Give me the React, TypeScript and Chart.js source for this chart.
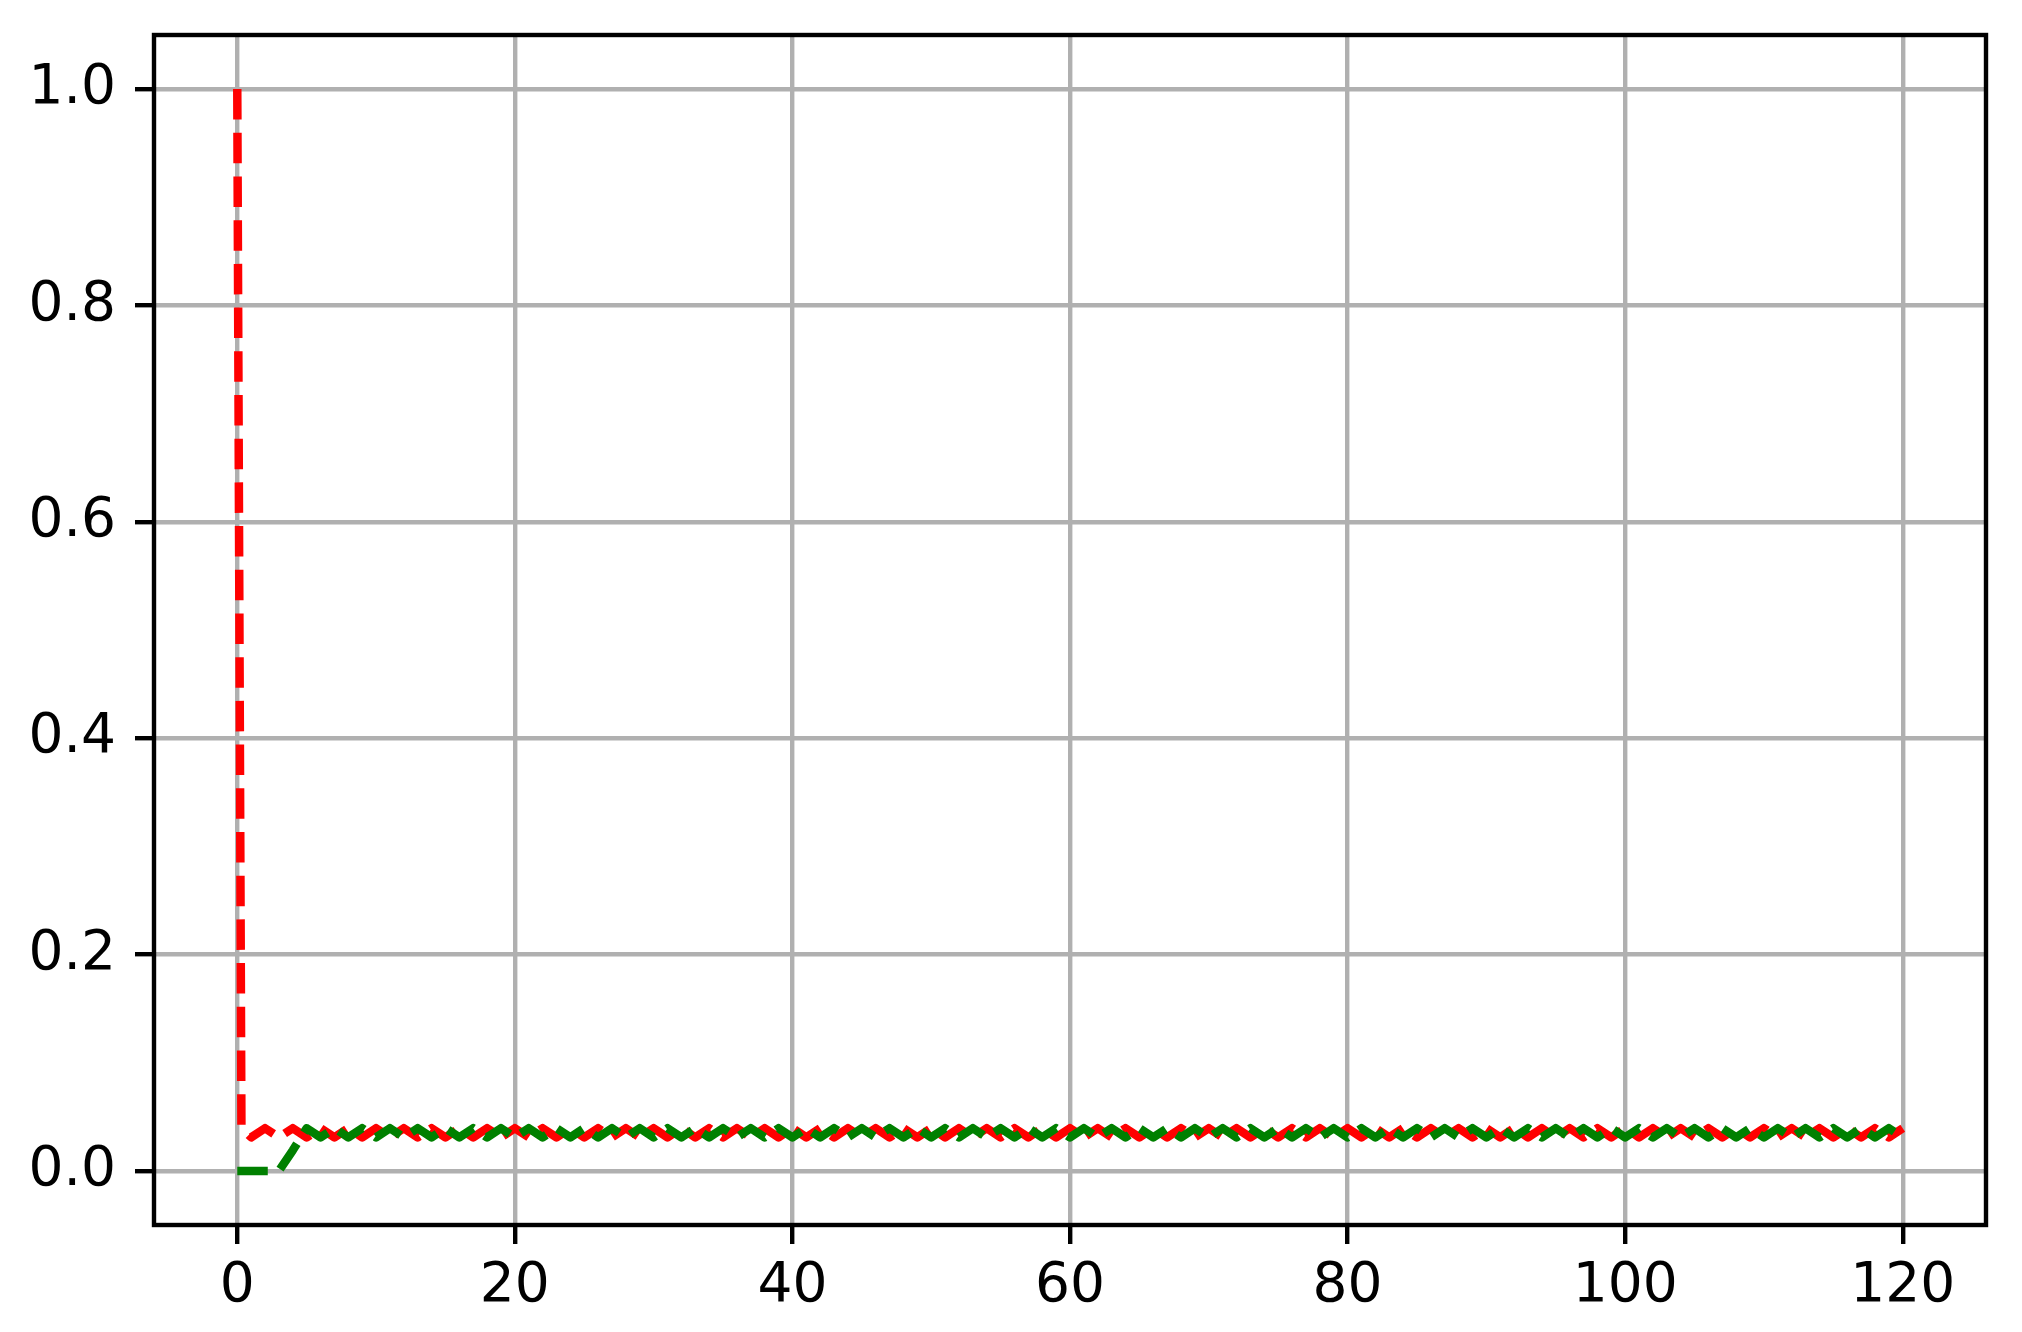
import React, { useEffect, useRef } from "react";
import { Chart, registerables } from "chart.js";

Chart.register(...registerables);

// time steps (x)
const timeSteps = [
  0, 1, 2, 3, 4, 5, 6, 7, 8, 9,
  10, 11, 12, 13, 14, 15, 16, 17, 18, 19,
  20, 21, 22, 23, 24, 25, 26, 27, 28, 29,
  30, 31, 32, 33, 34, 35, 36, 37, 38, 39,
  40, 41, 42, 43, 44, 45, 46, 47, 48, 49,
  50, 51, 52, 53, 54, 55, 56, 57, 58, 59,
  60, 61, 62, 63, 64, 65, 66, 67, 68, 69,
  70, 71, 72, 73, 74, 75, 76, 77, 78, 79,
  80, 81, 82, 83, 84, 85, 86, 87, 88, 89,
  90, 91, 92, 93, 94, 95, 96, 97, 98, 99,
  100, 101, 102, 103, 104, 105, 106, 107, 108, 109,
  110, 111, 112, 113, 114, 115, 116, 117, 118, 119,
  120,
];

// red series: extra early sample at t = 0.3
const redTimes = [0, 0.3, ...timeSteps.slice(1)];
const redValues = [
  1.0, 0.04,
  0.031, 0.0395, 0.031, 0.0395, 0.031, 0.0395, 0.031, 0.0395, 0.031, 0.0395,
  0.031, 0.0395, 0.031, 0.0395, 0.031, 0.0395, 0.031, 0.0395, 0.031, 0.0395,
  0.031, 0.0395, 0.031, 0.0395, 0.031, 0.0395, 0.031, 0.0395, 0.031, 0.0395,
  0.031, 0.0395, 0.031, 0.0395, 0.031, 0.0395, 0.031, 0.0395, 0.031, 0.0395,
  0.031, 0.0395, 0.031, 0.0395, 0.031, 0.0395, 0.031, 0.0395, 0.031, 0.0395,
  0.031, 0.0395, 0.031, 0.0395, 0.031, 0.0395, 0.031, 0.0395, 0.031, 0.0395,
  0.031, 0.0395, 0.031, 0.0395, 0.031, 0.0395, 0.031, 0.0395, 0.031, 0.0395,
  0.031, 0.0395, 0.031, 0.0395, 0.031, 0.0395, 0.031, 0.0395, 0.031, 0.0395,
  0.031, 0.0395, 0.031, 0.0395, 0.031, 0.0395, 0.031, 0.0395, 0.031, 0.0395,
  0.031, 0.0395, 0.031, 0.0395, 0.031, 0.0395, 0.031, 0.0395, 0.031, 0.0395,
  0.031, 0.0395, 0.031, 0.0395, 0.031, 0.0395, 0.031, 0.0395, 0.031, 0.0395,
  0.031, 0.0395, 0.031, 0.0395, 0.031, 0.0395, 0.031, 0.0395, 0.031, 0.0395,
];

// green series
const greenValues = [
  0, 0, 0, 0, 0.019, 0.0395, 0.031, 0.0395, 0.031, 0.0395,
  0.031, 0.0395, 0.031, 0.0395, 0.031, 0.0395, 0.031, 0.0395, 0.031, 0.0395,
  0.031, 0.0395, 0.031, 0.0395, 0.031, 0.0395, 0.031, 0.0395, 0.031, 0.0395,
  0.031, 0.0395, 0.031, 0.0395, 0.031, 0.0395, 0.031, 0.0395, 0.031, 0.0395,
  0.031, 0.0395, 0.031, 0.0395, 0.031, 0.0395, 0.031, 0.0395, 0.031, 0.0395,
  0.031, 0.0395, 0.031, 0.0395, 0.031, 0.0395, 0.031, 0.0395, 0.031, 0.0395,
  0.031, 0.0395, 0.031, 0.0395, 0.031, 0.0395, 0.031, 0.0395, 0.031, 0.0395,
  0.031, 0.0395, 0.031, 0.0395, 0.031, 0.0395, 0.031, 0.0395, 0.031, 0.0395,
  0.031, 0.0395, 0.031, 0.0395, 0.031, 0.0395, 0.031, 0.0395, 0.031, 0.0395,
  0.031, 0.0395, 0.031, 0.0395, 0.031, 0.0395, 0.031, 0.0395, 0.031, 0.0395,
  0.031, 0.0395, 0.031, 0.0395, 0.031, 0.0395, 0.031, 0.0395, 0.031, 0.0395,
  0.031, 0.0395, 0.031, 0.0395, 0.031, 0.0395, 0.031, 0.0395, 0.031, 0.0395,
  0.031,
];

const xTicks = [0, 20, 40, 60, 80, 100, 120];
const yTicks = [0.0, 0.2, 0.4, 0.6, 0.8, 1.0];

const W = 2022;
const H = 1332;
const FONT = { family: "'DejaVu Sans', sans-serif", size: 55 };

const framePlugin = {
  id: "frame",
  afterDatasetsDraw(chart: any) {
    const { ctx, chartArea } = chart;
    ctx.save();
    ctx.strokeStyle = "#000";
    ctx.lineWidth = 4.4;
    ctx.strokeRect(
      chartArea.left,
      chartArea.top,
      chartArea.right - chartArea.left,
      chartArea.bottom - chartArea.top
    );
    ctx.restore();
  },
};

export default function App() {
  const ref = useRef<HTMLCanvasElement | null>(null);

  useEffect(() => {
    document.body.style.margin = "0";
    const canvas = ref.current;
    if (!canvas) return;
    const chart = new Chart(canvas, {
      type: "line",
      data: {
        datasets: [
          {
            label: "green",
            data: timeSteps.map((t, i) => ({ x: t, y: greenValues[i] })),
            borderColor: "#008000",
            borderWidth: 8.5,
            borderDash: [30.5, 13.2],
            borderCapStyle: "butt",
            borderJoinStyle: "round",
            pointRadius: 0,
            tension: 0,
            fill: false,
            order: 0,
          },
          {
            label: "red",
            data: redTimes.map((t, i) => ({ x: t, y: redValues[i] })),
            borderColor: "#ff0000",
            borderWidth: 8.5,
            borderDash: [30.5, 13.2],
            borderCapStyle: "butt",
            borderJoinStyle: "round",
            pointRadius: 0,
            tension: 0,
            fill: false,
            order: 1,
          },
        ],
      },
      options: {
        animation: false,
        responsive: false,
        devicePixelRatio: 1,
        layout: { padding: { top: 35, right: 36, left: 0, bottom: 0 } },
        plugins: {
          legend: { display: false },
          tooltip: { enabled: false },
        },
        scales: {
          x: {
            type: "linear",
            min: -6,
            max: 126,
            afterBuildTicks: (scale: any) => {
              scale.ticks = xTicks.map((v) => ({ value: v }));
            },
            afterFit: (scale: any) => {
              scale.height = 107;
              scale.paddingLeft = 0;
              scale.paddingRight = 0;
            },
            border: { display: false },
            grid: {
              color: "#b0b0b0",
              lineWidth: 4.4,
              tickColor: "#000",
              tickWidth: 4.4,
              tickLength: 19,
            },
            ticks: {
              font: FONT,
              color: "#000",
              padding: 10,
              maxRotation: 0,
              autoSkip: false,
              callback: (v: any) => String(v),
            },
          },
          y: {
            type: "linear",
            min: -0.05,
            max: 1.05,
            afterBuildTicks: (scale: any) => {
              scale.ticks = yTicks.map((v) => ({ value: v }));
            },
            afterFit: (scale: any) => {
              scale.width = 154;
              scale.paddingTop = 0;
              scale.paddingBottom = 0;
            },
            border: { display: false },
            grid: {
              color: "#b0b0b0",
              lineWidth: 4.4,
              tickColor: "#000",
              tickWidth: 4.4,
              tickLength: 19,
            },
            ticks: {
              font: FONT,
              color: "#000",
              padding: 19,
              autoSkip: false,
              callback: (v: any) => Number(v).toFixed(1),
            },
          },
        },
      },
      plugins: [framePlugin],
    });
    return () => chart.destroy();
  }, []);

  return (
    <div style={{ position: "fixed", left: 0, top: 0, width: W, height: H, background: "#fff" }}>
      <canvas ref={ref} width={W} height={H} style={{ width: W, height: H, display: "block" }} />
    </div>
  );
}
